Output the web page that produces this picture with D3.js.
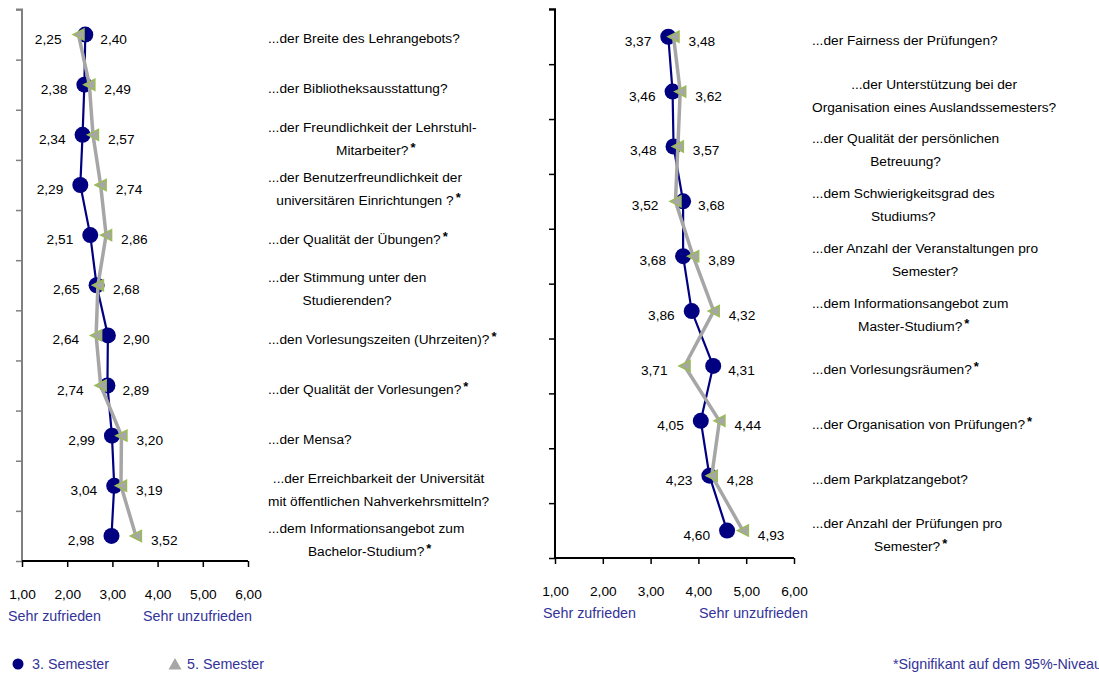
<!DOCTYPE html>
<html>
<head>
<meta charset="utf-8">
<script src="https://cdn.jsdelivr.net/npm/d3@7"></script>
<style>
  html, body { margin: 0; padding: 0; background: #fff; }
  svg { display: block; font-family: "Liberation Sans", Arial, sans-serif; }
</style>
</head>
<body>
<svg id="chart" width="1099" height="675"></svg>
<script>
// Satisfaction ratings (1 = sehr zufrieden ... 6 = sehr unzufrieden)
const leftCategories = [
  "...der Breite des Lehrangebots?",
  "...der Bibliotheksausstattung?",
  "...der Freundlichkeit der Lehrstuhl-\nMitarbeiter?",
  "...der Benutzerfreundlichkeit der\nuniversitären Einrichtungen ?",
  "...der Qualität der Übungen?",
  "...der Stimmung unter den\nStudierenden?",
  "...den Vorlesungszeiten (Uhrzeiten)?",
  "...der Qualität der Vorlesungen?",
  "...der Mensa?",
  "...der Erreichbarkeit der Universität\nmit öffentlichen Nahverkehrsmitteln?",
  "...dem Informationsangebot zum\nBachelor-Studium?"
];
const leftSem3 = [2.40, 2.38, 2.34, 2.29, 2.51, 2.65, 2.90, 2.89, 2.99, 3.04, 2.98];
const leftSem5 = [2.25, 2.49, 2.57, 2.74, 2.86, 2.68, 2.64, 2.74, 3.20, 3.19, 3.52];
const leftSignificant = [false, false, true, true, true, false, true, true, false, false, true];

const rightCategories = [
  "...der Fairness der Prüfungen?",
  "...der Unterstützung  bei der\nOrganisation eines Auslandssemesters?",
  "...der Qualität der persönlichen\nBetreuung?",
  "...dem Schwierigkeitsgrad des\nStudiums?",
  "...der Anzahl der Veranstaltungen  pro\nSemester?",
  "...dem Informationsangebot zum\nMaster-Studium?",
  "...den Vorlesungsräumen?",
  "...der Organisation von Prüfungen?",
  "...dem Parkplatzangebot?",
  "...der Anzahl der Prüfungen pro\nSemester?"
];
const rightSem3 = [3.37, 3.46, 3.48, 3.68, 3.68, 3.86, 4.31, 4.05, 4.23, 4.60];
const rightSem5 = [3.48, 3.62, 3.57, 3.52, 3.89, 4.32, 3.71, 4.44, 4.28, 4.93];
const rightSignificant = [false, false, false, false, false, true, true, true, false, true];

const xTicks = [1, 2, 3, 4, 5, 6];
const scaleEnds = ["Sehr zufrieden", "Sehr unzufrieden"];
const legendLabels = ["3. Semester", "5. Semester"];
const footnote = "*Signifikant auf dem 95%-Niveau";

const NAVY = "#000080";
const GREY = "#a6a6a6";
const GREEN = "#9bbb59";
const BLUE_TEXT = "#333399";
const FONT = 13.7;

const svg = d3.select("#chart");
svg.append("rect").attr("width", 1099).attr("height", 675).attr("fill", "#fff");

const fmt = v => d3.format(".2f")(v).replace(".", ",");

function panel(cfg) {
  const n = cfg.categories.length;
  const x = d3.scaleLinear().domain([1, 6]).range([cfg.x0, cfg.x1]);
  // category axis: integer boundaries, points sit in the middle of each slot
  const y = d3.scaleLinear().domain([0, n]).range([cfg.yTop, cfg.yBot]);
  const g = svg.append("g");

  // vertical category axis
  const yAxis = d3.axisLeft(y).tickValues(d3.range(0, n + 1)).tickSize(6).tickFormat("");
  const ya = g.append("g").attr("transform", `translate(${cfg.x0},0)`).call(yAxis);
  ya.selectAll("path").attr("stroke", cfg.yAxisColor).attr("stroke-width", 2).attr("d", `M-6,${y(0)}H0V${y(n)}`);
  ya.selectAll("line").attr("stroke", cfg.yAxisColor).attr("stroke-width", 1.5);

  // value axis
  const xAxis = d3.axisBottom(x).tickValues(xTicks).tickSize(6).tickPadding(22).tickFormat(fmt);
  const xa = g.append("g").attr("transform", `translate(0,${cfg.yBot})`).call(xAxis);
  xa.selectAll("path").attr("stroke", "#000").attr("stroke-width", 2).attr("d", `M${x(1)},0H${x(6)}`);
  xa.selectAll("line").attr("stroke", "#000").attr("stroke-width", 1.5);
  xa.selectAll("text").attr("font-size", FONT).attr("fill", "#000")
    .attr("font-family", "Liberation Sans, Arial, sans-serif");

  g.append("text").attr("x", cfg.endLeftX).attr("y", cfg.yBot + 60)
    .attr("font-size", 14.3).attr("fill", BLUE_TEXT).text(scaleEnds[0]);
  g.append("text").attr("x", cfg.endRightX).attr("y", cfg.yBot + 60)
    .attr("font-size", 14.3).attr("fill", BLUE_TEXT).text(scaleEnds[1]);

  const cy = i => y(i + 0.5);

  // 3. Semester series
  const line = vals => d3.line().x(d => x(d)).y((d, i) => cy(i))(vals);
  g.append("path").attr("d", line(cfg.sem3)).attr("fill", "none")
    .attr("stroke", NAVY).attr("stroke-width", 2.2);
  g.selectAll(".c3").data(cfg.sem3).join("circle")
    .attr("cx", d => x(d)).attr("cy", (d, i) => cy(i)).attr("r", 8).attr("fill", NAVY);

  // 5. Semester series
  g.append("path").attr("d", line(cfg.sem5)).attr("fill", "none")
    .attr("stroke", GREY).attr("stroke-width", 3.5).attr("stroke-linejoin", "round");
  g.selectAll(".t5").data(cfg.sem5).join("path")
    .attr("transform", (d, i) => `translate(${x(d)},${cy(i)})`)
    .attr("d", "M-5.5,0L5.5,-5.5L5.5,5.5Z")
    .attr("fill", GREY).attr("stroke", GREEN).attr("stroke-width", 1.5);

  // value labels: lower value on the left, higher value on the right
  cfg.sem3.forEach((v3, i) => {
    const v5 = cfg.sem5[i];
    const lo = Math.min(v3, v5), hi = Math.max(v3, v5);
    g.append("text").attr("x", x(lo) - 17).attr("y", cy(i) + 9)
      .attr("text-anchor", "end").attr("font-size", FONT).attr("fill", "#000").text(fmt(lo));
    g.append("text").attr("x", x(hi) + 15).attr("y", cy(i) + 9)
      .attr("text-anchor", "start").attr("font-size", FONT).attr("fill", "#000").text(fmt(hi));
  });

  // category labels, centred within their own block
  cfg.categories.forEach((label, i) => {
    const lines = label.split("\n");
    const widths = lines.map(t => {
      const tmp = g.append("text").attr("font-size", FONT).text(t);
      const w = tmp.node().getComputedTextLength();
      tmp.remove();
      return w;
    });
    const cx = cfg.labelX + d3.max(widths) / 2;
    const mid = cy(i) + 3.5;
    lines.forEach((t, k) => {
      const base = mid + (k - (lines.length - 1) / 2) * 23 + 5;
      g.append("text").attr("x", cx).attr("y", base).attr("text-anchor", "middle")
        .attr("font-size", FONT).attr("fill", "#000").text(t);
      if (k === lines.length - 1 && cfg.significant[i]) {
        g.append("text").attr("x", cx + widths[k] / 2 + 2).attr("y", base - 3)
          .attr("font-size", 13).attr("font-weight", "bold").attr("fill", "#000").text("*");
      }
    });
  });
}

panel({
  categories: leftCategories, sem3: leftSem3, sem5: leftSem5, significant: leftSignificant,
  x0: 22, x1: 248, yTop: 9.5, yBot: 561, labelX: 268, yAxisColor: "#808080",
  endLeftX: 8, endRightX: 143
});
panel({
  categories: rightCategories, sem3: rightSem3, sem5: rightSem5, significant: rightSignificant,
  x0: 555, x1: 794, yTop: 9.3, yBot: 558, labelX: 812, yAxisColor: "#000",
  endLeftX: 543, endRightX: 699
});

// legend
const lg = svg.append("g");
lg.append("circle").attr("cx", 18).attr("cy", 664).attr("r", 5.5).attr("fill", NAVY);
lg.append("text").attr("x", 32).attr("y", 669).attr("font-size", 14.3).attr("fill", BLUE_TEXT).text(legendLabels[0]);
lg.append("path").attr("transform", "translate(175,664)").attr("d", "M0,-6L6.5,5.5L-6.5,5.5Z").attr("fill", GREY);
lg.append("text").attr("x", 187).attr("y", 669).attr("font-size", 14.3).attr("fill", BLUE_TEXT).text(legendLabels[1]);
lg.append("text").attr("x", 893).attr("y", 669).attr("font-size", 14.3).attr("fill", BLUE_TEXT).text(footnote);
</script>
</body>
</html>
